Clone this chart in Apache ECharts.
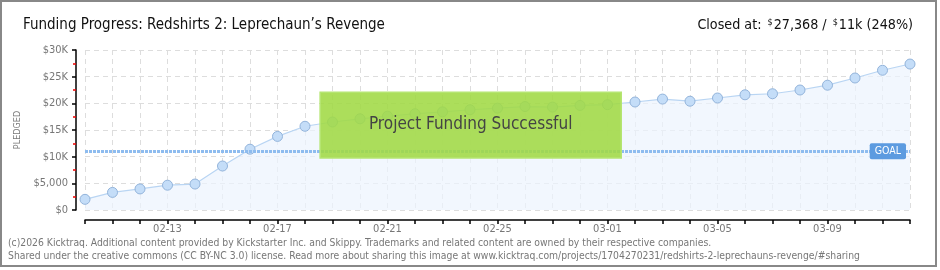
<!DOCTYPE html>
<html>
<head>
<meta charset="utf-8">
<script src="https://cdn.jsdelivr.net/npm/echarts@6/dist/echarts.min.js"></script>
<style>
html,body{margin:0;padding:0;background:#fff;}
#c{width:940px;height:270px;}
</style>
</head>
<body>
<div id="c"></div>
<script>
var dates = ['02-10','02-11','02-12','02-13','02-14','02-15','02-16','02-17','02-18','02-19','02-20','02-21','02-22','02-23','02-24','02-25','02-26','02-27','02-28','03-01','03-02','03-03','03-04','03-05','03-06','03-07','03-08','03-09','03-10','03-11','03-12'];
var pledged = [2000, 3300, 3950, 4650, 4870, 8250, 11400, 13800, 15700, 16500, 17100, 17600, 18050, 18400, 18800, 19100, 19400, 19300, 19600, 19750, 20250, 20800, 20400, 21000, 21600, 21800, 22500, 23400, 24750, 26200, 27368];
var goal = 11000;
var yTicks = ['$0','$5,000','$10K','$15K','$20K','$25K','$30K'];
var bannerX = [8.55, 19.5];
var bannerY = [22100, 9750];
var bannerText = 'Project Funding Successful';

var font = '"DejaVu Sans Condensed", "DejaVu Sans", sans-serif';
var chart = echarts.init(document.getElementById('c'), null, {renderer:'canvas'});
chart.setOption({
  animation:false,
  backgroundColor:'#fff',
  title:[{
    text:'Funding Progress: Redshirts 2: Leprechaun\u2019s Revenge',
    left:18, top:13,
    textStyle:{fontFamily:font, fontSize:15, fontWeight:'normal', color:'#111'}
  },{
    text:'{t|Closed at: }{s|$}{t|27,368 / }{s|$}{t|11k (248%)}',
    right:22, top:13,
    textStyle:{fontWeight:'normal', rich:{
      t:{fontFamily:font, fontSize:14.2, fontWeight:'normal', color:'#111'},
      s:{fontFamily:font, fontSize:9, fontWeight:'normal', color:'#111', verticalAlign:'top', padding:[0,1,6,2]}
    }}
  }],
  graphic:[{
    type:'rect', shape:{x:1,y:1,width:935,height:265}, style:{fill:'none', stroke:'#888', lineWidth:2}, silent:true
  },{
    type:'text', left:8, top:237,
    style:{text:'(c)2026 Kicktraq. Additional content provided by Kickstarter Inc. and Skippy. Trademarks and related content are owned by their respective companies.\nShared under the creative commons (CC BY-NC 3.0) license. Read more about sharing this image at www.kicktraq.com/projects/1704270231/redshirts-2-leprechauns-revenge/#sharing',
      font:'10.3px "DejaVu Sans Condensed", sans-serif', fill:'#777', lineHeight:13}
  }],
  grid:{left:85, right:30, top:50, bottom:60},
  xAxis:[{
    type:'category', data:dates, boundaryGap:false, offset:10,
    axisLine:{onZero:false, lineStyle:{color:'#000', width:1.5}},
    axisTick:{show:true, length:4, interval:0, lineStyle:{color:'#000', width:1.5}},
    axisLabel:{interval:function(i){return (i-3)%4===0;}, margin:4, color:'#777', fontFamily:font, fontSize:11},
    splitLine:{show:true, interval:0, lineStyle:{color:'#ddd', type:[5,4]}}
  },{
    type:'value', min:0, max:30, show:false
  }],
  yAxis:{
    type:'value', min:0, max:30000, interval:5000, offset:9,
    name:'PLEDGED', nameLocation:'middle', nameGap:51, nameRotate:90,
    nameTextStyle:{color:'#777', fontFamily:font, fontSize:9},
    axisLine:{show:true, onZero:false, lineStyle:{color:'#000', width:1.5}},
    axisTick:{show:true, length:4, lineStyle:{color:'#000', width:1.5}},
    minorTick:{show:true, splitNumber:2, length:3, lineStyle:{color:'#e00', width:1.5}},
    axisLabel:{margin:8, color:'#777', fontFamily:font, fontSize:11, formatter:function(v){return yTicks[Math.round(v/5000)];}},
    splitLine:{show:true, lineStyle:{color:'#ddd', type:[5,4]}}
  },
  series:[{
    type:'line', data:pledged, z:2,
    symbol:'circle', symbolSize:10, showAllSymbol:true,
    lineStyle:{color:'#b9d5f3', width:1.2},
    itemStyle:{color:'#c4ddf8', borderColor:'#93b4db', borderWidth:1},
    areaStyle:{color:'#edf4fd'},
    markLine:{
      silent:true, symbol:'none',
      lineStyle:{color:'#8ebcef', width:3, type:[3,1]},
      data:[{yAxis:goal}],
      label:{show:true, position:'insideEnd', formatter:'GOAL', color:'#fff', backgroundColor:'#5c9be0',
        borderRadius:2, padding:[3,5,2,5], fontFamily:font, fontSize:10.5, distance:4}
    }
  },{
    type:'custom', xAxisIndex:1, z:10, silent:true,
    data:[[bannerX[0], bannerY[0], bannerX[1], bannerY[1]]],
    renderItem:function(params, api){
      var p1 = api.coord([api.value(0), api.value(1)]);
      var p2 = api.coord([api.value(2), api.value(3)]);
      return {type:'group', children:[{
        type:'rect',
        shape:{x:p1[0], y:p1[1], width:p2[0]-p1[0], height:p2[1]-p1[1]},
        style:{fill:'rgba(160,217,68,0.88)', stroke:'#b5e572', lineWidth:1.5}
      },{
        type:'text',
        x:(p1[0]+p2[0])/2, y:(p1[1]+p2[1])/2,
        style:{text:bannerText, fill:'#444', font:'17px "DejaVu Sans Condensed", sans-serif',
          align:'center', verticalAlign:'middle',
          textShadowColor:'#fff', textShadowOffsetX:1, textShadowOffsetY:1, textShadowBlur:0}
      }]};
    }
  }]
});
</script>
</body>
</html>
